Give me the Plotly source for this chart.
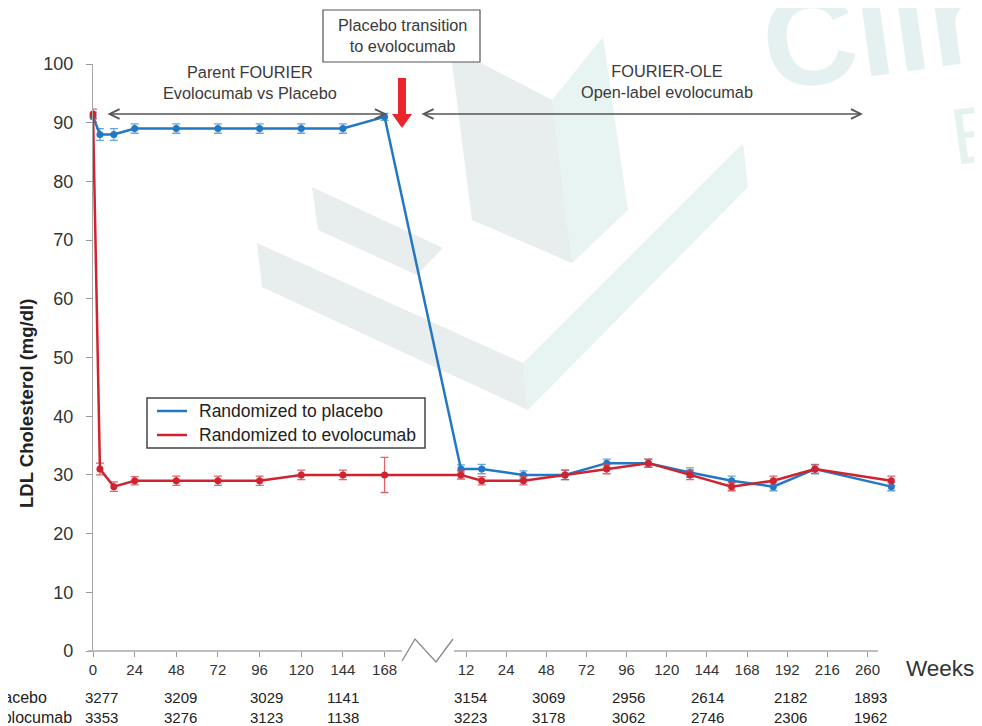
import plotly.graph_objects as go

# ---------------- data ----------------
parent_weeks = [0, 4, 12, 24, 48, 72, 96, 120, 144, 168]
ole_weeks = [12, 24, 48, 72, 96, 120, 144, 168, 192, 216, 260]
OLE_OFFSET = 200  # axis position of OLE week 0 (after the axis break)

placebo_parent = [91, 88, 88, 89, 89, 89, 89, 89, 89, 91]
placebo_ole = [31, 31, 30, 30, 32, 32, 30.4, 29, 28, 31, 28]
evo_parent = [91.5, 31, 28, 29, 29, 29, 29, 30, 30, 30]
evo_ole = [30, 29, 29, 30, 31, 32, 30, 28, 29, 31, 29]

placebo_err_parent = [0.8, 1.0, 1.0, 0.8, 0.8, 0.8, 0.8, 0.8, 0.8, 0.6]
placebo_err_ole = [0.7, 0.8, 0.7, 0.8, 0.7, 0.7, 0.8, 0.8, 0.7, 0.8, 0.7]
evo_err_parent = [0.8, 1.0, 0.8, 0.7, 0.8, 0.8, 0.8, 0.8, 0.8, 3.0]
evo_err_ole = [0.7, 0.7, 0.7, 0.8, 0.8, 0.7, 0.8, 0.7, 0.8, 0.7, 0.8]

parent_tick_labels = [0, 24, 48, 72, 96, 120, 144, 168]
ole_tick_labels = [12, 24, 48, 72, 96, 120, 144, 168, 192, 216, 260]

series_names = ["Randomized to placebo", "Randomized to evolocumab"]

n_placebo_parent = [3277, 3209, 3029, 1141]
n_evo_parent = [3353, 3276, 3123, 1138]
n_placebo_ole = [3154, 3069, 2956, 2614, 2182, 1893]
n_evo_ole = [3223, 3178, 3062, 2746, 2306, 1962]

# ---------------- layout geometry ----------------
W, H = 982, 726
PAGE_OFF = 8                       # page body margin offsets the figure
X0_SCR, Y0_SCR, Y100_SCR = 93, 651, 64   # screen pixels of axis origin / top
ML, MT = X0_SCR - PAGE_OFF, Y100_SCR - PAGE_OFF
PH = Y0_SCR - Y100_SCR
PW = 807
MR = W - ML - PW
MB = H - MT - PH
XMAX = 465.0
PX_PER_UNIT = PW / XMAX


def px2x(px):
    return (px - X0_SCR) / PX_PER_UNIT


def px2pxp(px):
    return (px - X0_SCR) / PW


def py2p(py):
    return (Y0_SCR - py) / PH


def py2y(py):
    return (Y0_SCR - py) / PH * 100


BLUE = "#2378c3"
RED = "#d0232f"
BLUE_ERR = "rgba(70,150,215,0.85)"
RED_ERR = "rgba(215,70,80,0.85)"
FONT = "Liberation Sans, Arial, sans-serif"
TXT = "#3a3a3a"

x_all = parent_weeks + [OLE_OFFSET + w for w in ole_weeks]

fig = go.Figure()

# ---------------- watermark (faint background shapes) ----------------
def poly(pts):
    return "M " + " L ".join(f"{px2pxp(x):.4f},{py2p(y):.4f}" for x, y in pts) + " Z"

wm_gray = "rgba(222,230,230,0.7)"
wm_teal = "rgba(222,240,236,0.7)"
wm_shapes = [
    ([(450, 47), (552, 100), (572, 263), (472, 220)], wm_gray),
    ([(552, 100), (603, 37), (628, 210), (572, 263)], wm_teal),
    ([(312, 187), (443, 248), (417, 275), (318, 230)], wm_gray),
    ([(257, 243), (523, 363), (528, 410), (262, 287)], wm_gray),
    ([(523, 363), (743, 143), (748, 187), (528, 410)], wm_teal),
]
shapes = []
for pts, col in wm_shapes:
    shapes.append(dict(type="path", path=poly(pts), xref="paper", yref="paper",
                       fillcolor=col, line=dict(width=0), layer="below"))

# ---------------- traces ----------------
fig.add_trace(go.Scatter(
    x=x_all, y=placebo_parent + placebo_ole, mode="lines+markers",
    line=dict(color=BLUE, width=2.5), marker=dict(color=BLUE, size=7),
    error_y=dict(type="data", array=placebo_err_parent + placebo_err_ole,
                 color=BLUE_ERR, thickness=1.3, width=4),
    showlegend=False, cliponaxis=False, name=series_names[0]))
fig.add_trace(go.Scatter(
    x=x_all, y=evo_parent + evo_ole, mode="lines+markers",
    line=dict(color=RED, width=2.5), marker=dict(color=RED, size=7),
    error_y=dict(type="data", array=evo_err_parent + evo_err_ole,
                 color=RED_ERR, thickness=1.3, width=4),
    showlegend=False, cliponaxis=False, name=series_names[1]))

# ---------------- ticks ----------------
ole_tick_pos = [px2x(466 + 40.15 * i) for i in range(len(ole_tick_labels))]
tickvals = parent_tick_labels + ole_tick_pos
ticktext = [str(v) for v in parent_tick_labels] + [str(v) for v in ole_tick_labels]

# ---------------- x-axis line with break ----------------
AX = "#a8a8a8"
shapes += [
    dict(type="line", xref="paper", yref="paper", x0=px2pxp(88), x1=px2pxp(402),
         y0=0, y1=0, line=dict(color=AX, width=1.3)),
    dict(type="line", xref="paper", yref="paper", x0=px2pxp(454), x1=px2pxp(878),
         y0=0, y1=0, line=dict(color=AX, width=1.3)),
    dict(type="path", xref="paper", yref="paper",
         path=("M %f,%f L %f,%f L %f,%f L %f,%f" % (
             px2pxp(402), py2p(661), px2pxp(415), py2p(639),
             px2pxp(436), py2p(662), px2pxp(453), py2p(639))),
         line=dict(color="#888", width=1.3)),
]

# box for "Placebo transition"
shapes.append(dict(type="rect", xref="paper", yref="paper",
                   x0=px2pxp(323), x1=px2pxp(480), y0=py2p(62), y1=py2p(10),
                   line=dict(color="#555", width=1.2), fillcolor="white"))
# red thick arrow
RARROW = "#e8262b"
shapes.append(dict(type="rect", xref="paper", yref="paper",
                   x0=px2pxp(398), x1=px2pxp(406), y0=py2p(116), y1=py2p(78),
                   line=dict(width=0), fillcolor=RARROW))
shapes.append(dict(type="path", xref="paper", yref="paper",
                   path="M %f,%f L %f,%f L %f,%f Z" % (
                       px2pxp(392), py2p(114), px2pxp(412), py2p(114),
                       px2pxp(402), py2p(128)),
                   line=dict(width=0), fillcolor=RARROW))

# legend box (drawn manually for exact geometry)
shapes.append(dict(type="rect", xref="paper", yref="paper",
                   x0=px2pxp(147), x1=px2pxp(425), y0=py2p(448), y1=py2p(398),
                   line=dict(color="#444", width=1.5), fillcolor="white"))
legend_rows_py = [411, 435]
for (col, row_py) in zip([BLUE, RED], legend_rows_py):
    shapes.append(dict(type="line", xref="paper", yref="paper",
                       x0=px2pxp(157), x1=px2pxp(187), y0=py2p(row_py), y1=py2p(row_py),
                       line=dict(color=col, width=2.5)))

# ---------------- annotations ----------------
ann = []


def txt(x, y, text, size, color=TXT, xref="paper", yref="paper", xanchor="center",
        yanchor="middle", **kw):
    d = dict(x=x, y=y, xref=xref, yref=yref, text=text, showarrow=False,
             xanchor=xanchor, yanchor=yanchor,
             font=dict(size=size, color=color, family=FONT))
    d.update(kw)
    ann.append(d)


# watermark letters
txt(px2pxp(885), py2p(29), "<b>Clin</b>", 130, color="rgba(222,236,236,0.8)", textangle=-8)
txt(px2pxp(977), py2p(135), "E", 80, color="rgba(222,240,236,0.8)", textangle=-8)

# bracket arrows
for x_start, x_end in [(106, 387), (420, 863)]:
    ann.append(dict(x=px2x(x_end), y=py2y(114), ax=px2x(x_start), ay=py2y(114),
                    xref="x", yref="y", axref="x", ayref="y", text="",
                    showarrow=True, arrowside="end+start", arrowhead=5,
                    startarrowhead=5, arrowsize=1.3, startarrowsize=1.3,
                    arrowwidth=1.5, arrowcolor="#555"))
txt(px2x(250), py2y(82), "Parent FOURIER<br>Evolocumab vs Placebo", 16.3,
    xref="x", yref="y", align="center")
txt(px2x(667), py2y(81), "FOURIER-OLE<br>Open-label evolocumab", 16.3,
    xref="x", yref="y", align="center")
txt(px2pxp(402), py2p(36), "Placebo transition<br>to evolocumab", 16.3, align="center")

# legend texts
for name, row_py in zip(series_names, legend_rows_py):
    txt(px2pxp(197), py2p(row_py), name, 17.5, color="#222", xanchor="left")

# y axis title
txt(px2pxp(26), py2p(404), "<b>LDL Cholesterol (mg/dl)</b>", 18.5, color="#222",
    textangle=-90)
# Weeks
txt(px2pxp(904), py2p(668), "Weeks", 22.5, color="#333", xanchor="left")

# number-at-risk table
ROW1, ROW2 = py2p(697), py2p(717)
txt(px2pxp(-13), ROW1, "Placebo", 16, color="#222", xanchor="left")
txt(px2pxp(-18), ROW2, "Evolocumab", 16, color="#222", xanchor="left")
parent_cols_px = [101.5, 180, 266, 343]
ole_cols_px = [470, 548, 628, 707, 790, 870]
for cols, n1, n2 in [(parent_cols_px, n_placebo_parent, n_evo_parent),
                     (ole_cols_px, n_placebo_ole, n_evo_ole)]:
    for cx, a, b in zip(cols, n1, n2):
        txt(px2x(cx), ROW1, str(a), 15, color="#222", xref="x")
        txt(px2x(cx), ROW2, str(b), 15, color="#222", xref="x")

fig.update_layout(
    width=W, height=H, autosize=False,
    margin=dict(l=ML, r=MR, t=MT, b=MB, pad=0),
    plot_bgcolor="rgba(0,0,0,0)", paper_bgcolor="white",
    font=dict(family=FONT, color="#333"),
    showlegend=False,
    xaxis=dict(range=[0, XMAX], showgrid=False, zeroline=False, showline=False,
               ticks="outside", ticklen=5, tickcolor="#999", tickwidth=1,
               tickvals=tickvals, ticktext=ticktext,
               tickfont=dict(size=15, color="#333", family=FONT)),
    yaxis=dict(range=[0, 100], showgrid=False, zeroline=False, showline=True,
               linecolor=AX, linewidth=1.3, ticks="outside", ticklen=6,
               tickcolor="#999", tickvals=list(range(0, 101, 10)),
               tickfont=dict(size=18, color="#333", family=FONT),
               ticklabelstandoff=9),
    shapes=shapes, annotations=ann,
)

fig.write_html("out.html")
